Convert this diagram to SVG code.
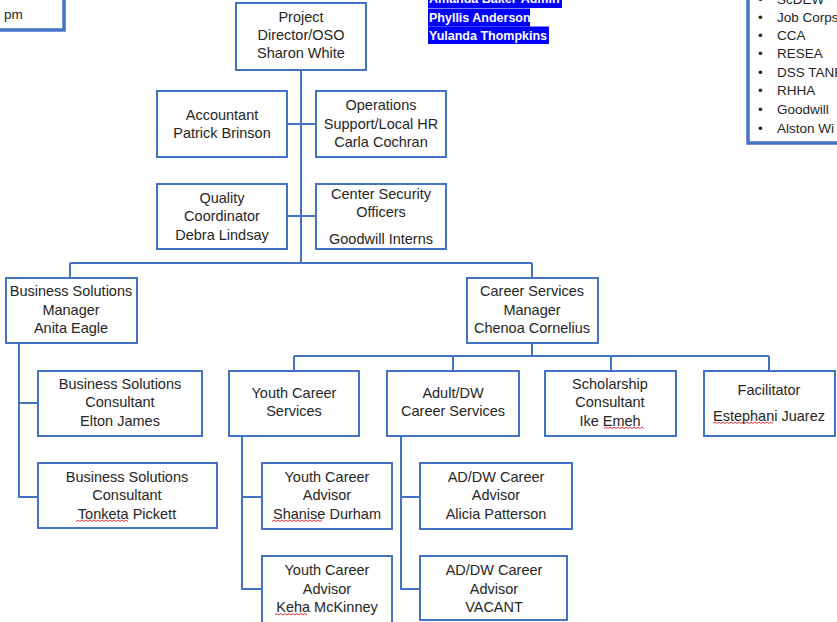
<svg xmlns="http://www.w3.org/2000/svg" width="837" height="622" viewBox="0 0 837 622">
<style>
.box{fill:#fff;stroke:#4472C4;stroke-width:2}
.frame{fill:#fff;stroke:#4472C4;stroke-width:3.5}
.ln{fill:none;stroke:#4472C4;stroke-width:2}
.t{font-family:"Liberation Sans",Arial,sans-serif;font-size:14.5px;fill:#262626;text-anchor:middle}
.tl{font-family:"Liberation Sans",Arial,sans-serif;font-size:13.5px;fill:#262626}
.hl{font-family:"Liberation Sans",Arial,sans-serif;font-size:12.5px;font-weight:bold;fill:#fff}
.sq{fill:none;stroke:#e02020;stroke-width:0.9}
</style>
<rect width="837" height="622" fill="#fff"/>
<g id="note-left">
<rect class="frame" x="-10" y="-10" width="74" height="40"/>
<text class="tl" x="4" y="19">pm</text>
</g>
<g id="note-staff">
<rect x="428" y="-10" width="134" height="18" fill="#0000ff"/>
<rect x="428" y="8.5" width="102" height="18" fill="#0000ff"/>
<rect x="428" y="26.5" width="121" height="17.5" fill="#0000ff"/>
<text class="hl" x="429" y="3">Amanda Baker-Admin</text>
<text class="hl" x="429" y="21.5">Phyllis Anderson</text>
<text class="hl" x="429" y="39.5">Yulanda Thompkins</text>
</g>
<g id="note-partners">
<rect class="frame" x="748" y="-10" width="100" height="153"/>
<g class="tl">
<text x="758" y="4">•</text><text x="777" y="4">ScDEW</text>
<text x="758" y="22">•</text><text x="777" y="22">Job Corps</text>
<text x="758" y="40">•</text><text x="777" y="40">CCA</text>
<text x="758" y="58">•</text><text x="777" y="58">RESEA</text>
<text x="758" y="77">•</text><text x="777" y="77">DSS TANF</text>
<text x="758" y="95">•</text><text x="777" y="95">RHHA</text>
<text x="758" y="114">•</text><text x="777" y="114">Goodwill</text>
<text x="758" y="133">•</text><text x="777" y="133">Alston Wi</text>
</g>
</g>
<g id="connectors">
<path class="ln" d="M301 70V263M287 124H316M287 216H316M70 263H532M70 263V278M532 263V278"/>
<path class="ln" d="M19 343V497H38M19 403H38"/>
<path class="ln" d="M532 343V356M294 356H769M294 356V371M453 356V371M611 356V371M769 356V371"/>
<path class="ln" d="M242 436V589H262M242 497H262"/>
<path class="ln" d="M401 436V589H420M401 497H420"/>
</g>
<g id="n-director">
<rect class="box" x="236" y="3" width="130" height="67"/>
<text class="t" x="301" y="22">Project</text>
<text class="t" x="301" y="40">Director/OSO</text>
<text class="t" x="301" y="58">Sharon White</text>
</g>
<g id="n-accountant">
<rect class="box" x="157" y="91" width="130" height="66"/>
<text class="t" x="222" y="120">Accountant</text>
<text class="t" x="222" y="138">Patrick Brinson</text>
</g>
<g id="n-operations">
<rect class="box" x="316" y="91" width="130" height="66"/>
<text class="t" x="381" y="110">Operations</text>
<text class="t" x="381" y="129">Support/Local HR</text>
<text class="t" x="381" y="147">Carla Cochran</text>
</g>
<g id="n-quality">
<rect class="box" x="157" y="184" width="130" height="65"/>
<text class="t" x="222" y="203">Quality</text>
<text class="t" x="222" y="221">Coordinator</text>
<text class="t" x="222" y="240">Debra Lindsay</text>
</g>
<g id="n-security">
<rect class="box" x="316" y="184" width="130" height="65"/>
<text class="t" x="381" y="199">Center Security</text>
<text class="t" x="381" y="217">Officers</text>
<text class="t" x="381" y="244">Goodwill Interns</text>
</g>
<g id="n-bsm">
<rect class="box" x="6" y="278" width="131" height="65"/>
<text class="t" x="71" y="296">Business Solutions</text>
<text class="t" x="71" y="315">Manager</text>
<text class="t" x="71" y="333">Anita Eagle</text>
</g>
<g id="n-csm">
<rect class="box" x="467" y="278" width="131" height="65"/>
<text class="t" x="532" y="296">Career Services</text>
<text class="t" x="532" y="315">Manager</text>
<text class="t" x="532" y="333">Chenoa Cornelius</text>
</g>
<g id="n-bsc1">
<rect class="box" x="38" y="371" width="164" height="65"/>
<text class="t" x="120" y="389">Business Solutions</text>
<text class="t" x="120" y="407">Consultant</text>
<text class="t" x="120" y="426">Elton James</text>
</g>
<g id="n-bsc2">
<rect class="box" x="38" y="463" width="179" height="65"/>
<text class="t" x="127" y="482">Business Solutions</text>
<text class="t" x="127" y="500">Consultant</text>
<text class="t" x="127" y="519">Tonketa Pickett</text>
<path class="sq" d="M76 521.5l2 -1.5l2 1.5l2 -1.5l2 1.5l2 -1.5l2 1.5l2 -1.5l2 1.5l2 -1.5l2 1.5l2 -1.5l2 1.5l2 -1.5l2 1.5l2 -1.5l2 1.5l2 -1.5l2 1.5l2 -1.5l2 1.5l2 -1.5l2 1.5l2 -1.5l2 1.5l2 -1.5l2 1.5"/>
</g>
<g id="n-youth">
<rect class="box" x="229" y="371" width="130" height="65"/>
<text class="t" x="294" y="398">Youth Career</text>
<text class="t" x="294" y="416">Services</text>
</g>
<g id="n-adult">
<rect class="box" x="387" y="371" width="132" height="65"/>
<text class="t" x="453" y="398">Adult/DW</text>
<text class="t" x="453" y="416">Career Services</text>
</g>
<g id="n-scholar">
<rect class="box" x="545" y="371" width="131" height="65"/>
<text class="t" x="610" y="389">Scholarship</text>
<text class="t" x="610" y="407">Consultant</text>
<text class="t" x="610" y="426">Ike Emeh</text>
<path class="sq" d="M604 428.5l2 -1.5l2 1.5l2 -1.5l2 1.5l2 -1.5l2 1.5l2 -1.5l2 1.5l2 -1.5l2 1.5l2 -1.5l2 1.5l2 -1.5l2 1.5l2 -1.5l2 1.5l2 -1.5l2 1.5l2 -1.5l2 1.5"/>
</g>
<g id="n-facilitator">
<rect class="box" x="704" y="371" width="131" height="65"/>
<text class="t" x="769" y="395">Facilitator</text>
<text class="t" x="769" y="421">Estephani Juarez</text>
<path class="sq" d="M713 423.5l2 -1.5l2 1.5l2 -1.5l2 1.5l2 -1.5l2 1.5l2 -1.5l2 1.5l2 -1.5l2 1.5l2 -1.5l2 1.5l2 -1.5l2 1.5l2 -1.5l2 1.5l2 -1.5l2 1.5l2 -1.5l2 1.5l2 -1.5l2 1.5l2 -1.5l2 1.5l2 -1.5l2 1.5l2 -1.5l2 1.5l2 -1.5l2 1.5"/>
</g>
<g id="n-yca1">
<rect class="box" x="262" y="463" width="130" height="66"/>
<text class="t" x="327" y="482">Youth Career</text>
<text class="t" x="327" y="500">Advisor</text>
<text class="t" x="327" y="519">Shanise Durham</text>
<path class="sq" d="M272 521.5l2 -1.5l2 1.5l2 -1.5l2 1.5l2 -1.5l2 1.5l2 -1.5l2 1.5l2 -1.5l2 1.5l2 -1.5l2 1.5l2 -1.5l2 1.5l2 -1.5l2 1.5l2 -1.5l2 1.5l2 -1.5l2 1.5l2 -1.5l2 1.5l2 -1.5l2 1.5l2 -1.5"/>
</g>
<g id="n-yca2">
<rect class="box" x="262" y="556" width="130" height="70"/>
<text class="t" x="327" y="575">Youth Career</text>
<text class="t" x="327" y="594">Advisor</text>
<text class="t" x="327" y="612">Keha McKinney</text>
<path class="sq" d="M275 615l2 -1.5l2 1.5l2 -1.5l2 1.5l2 -1.5l2 1.5l2 -1.5l2 1.5l2 -1.5l2 1.5l2 -1.5l2 1.5l2 -1.5l2 1.5l2 -1.5l2 1.5"/>
</g>
<g id="n-adw1">
<rect class="box" x="420" y="463" width="152" height="66"/>
<text class="t" x="496" y="482">AD/DW Career</text>
<text class="t" x="496" y="500">Advisor</text>
<text class="t" x="496" y="519">Alicia Patterson</text>
</g>
<g id="n-adw2">
<rect class="box" x="420" y="556" width="147" height="64"/>
<text class="t" x="494" y="575">AD/DW Career</text>
<text class="t" x="494" y="594">Advisor</text>
<text class="t" x="494" y="612">VACANT</text>
</g>
</svg>
